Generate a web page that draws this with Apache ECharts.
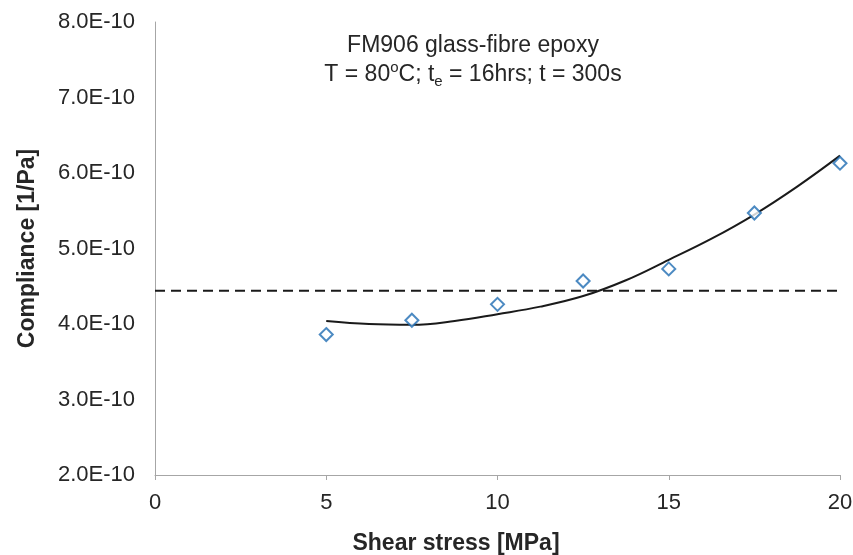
<!DOCTYPE html>
<html><head><meta charset="utf-8">
<script src="https://cdn.jsdelivr.net/npm/echarts@6/dist/echarts.min.js"></script>
<style>html,body{margin:0;padding:0;background:#fff}#c{width:853px;height:555px}</style>
</head><body><div id="c"></div>
<script>
// Shear stress [MPa]
var stress = [5, 7.5, 10, 12.5, 15, 17.5, 20];
// Compliance, in units of 1E-10 1/Pa
var compliance = [3.86, 4.05, 4.26, 4.57, 4.73, 5.47, 6.13];
// Trend curve (x, compliance in 1E-10 1/Pa)
var trendX = [5, 6.25, 7.5, 8.75, 10, 11.25, 12.5, 13.75, 15, 16.25, 17.5, 18.75, 20];
var trendY = [4.04, 4.00, 3.99, 4.04, 4.13, 4.23, 4.37, 4.58, 4.85, 5.13, 5.45, 5.82, 6.23];
// Dashed reference level
var refX = [0, 20];
var refLevel = 4.44;
var yTicks = ['2.0E-10','3.0E-10','4.0E-10','5.0E-10','6.0E-10','7.0E-10','8.0E-10'];

var chart = echarts.init(document.getElementById('c'));
var font = '"Liberation Sans", Arial, sans-serif';
var txt = '#262626';
chart.setOption({
  animation: false,
  grid: {left: 155, right: 13, top: 22, bottom: 80, containLabel: false, outerBoundsMode: 'none'},
  title: {
    text: 'FM906 glass-fibre epoxy\nT = 80{sup|o}C; t{sub|e} = 16hrs; t = 300s',
    left: 468, top: 26, textAlign: 'center',
    textStyle: {
      fontFamily: font, fontSize: 23, fontWeight: 'normal', color: txt, lineHeight: 29,
      rich: {
        sup: {fontFamily: font, fontSize: 15, color: txt, verticalAlign: 'top', lineHeight: 22},
        sub: {fontFamily: font, fontSize: 15, color: txt, verticalAlign: 'bottom', lineHeight: 17}
      }
    }
  },
  xAxis: {
    type: 'value', min: 0, max: 20, interval: 5,
    name: 'Shear stress [MPa]', nameLocation: 'middle', nameGap: 57,
    nameTextStyle: {fontFamily: font, fontSize: 23, fontWeight: 'bold', color: txt, padding: [0, 83, 0, 0]},
    axisLine: {show: true, lineStyle: {color: '#a6a6a6', width: 1}},
    axisTick: {show: true, length: 5, lineStyle: {color: '#a6a6a6'}},
    axisLabel: {fontFamily: font, fontSize: 22, color: txt, margin: 17},
    splitLine: {show: false}
  },
  yAxis: {
    type: 'value', min: 2, max: 8, interval: 1,
    name: 'Compliance [1/Pa]', nameLocation: 'middle', nameGap: 116, nameRotate: 90,
    nameTextStyle: {fontFamily: font, fontSize: 23, fontWeight: 'bold', color: txt},
    axisLine: {show: true, lineStyle: {color: '#a6a6a6', width: 1}},
    axisTick: {show: false},
    axisLabel: {fontFamily: font, fontSize: 22, color: txt, margin: 20,
      formatter: function (v) { return yTicks[Math.round(v - 2)]; }},
    splitLine: {show: false}
  },
  series: [
    {
      type: 'line', data: refX.map(function (x) { return [x, refLevel]; }),
      symbol: 'none', lineStyle: {color: '#1a1a1a', width: 2, type: [10, 6]}, z: 1
    },
    {
      type: 'line', data: trendX.map(function (x, i) { return [x, trendY[i]]; }),
      smooth: 0.4, symbol: 'none', lineStyle: {color: '#1a1a1a', width: 2}, z: 2
    },
    {
      type: 'scatter', data: stress.map(function (x, i) { return [x, compliance[i]]; }),
      symbol: 'diamond', symbolSize: 13,
      itemStyle: {color: '#ffffff', borderColor: '#1f6db3', borderWidth: 2}, z: 3
    }
  ]
});
</script></body></html>
